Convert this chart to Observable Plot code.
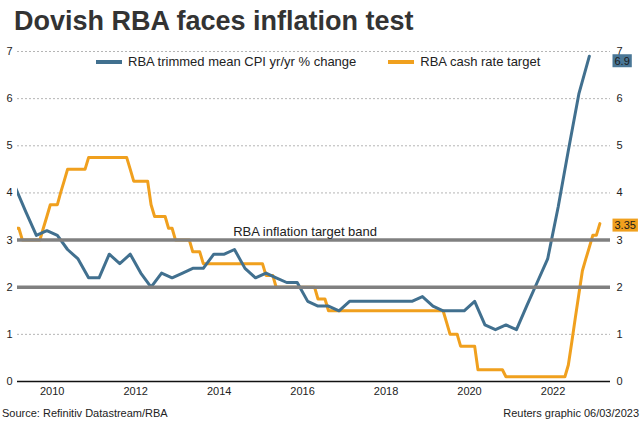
<!DOCTYPE html>
<html>
<head>
<meta charset="utf-8">
<script src="https://cdn.jsdelivr.net/npm/d3@7"></script>
<script src="https://cdn.jsdelivr.net/npm/@observablehq/plot@0.6"></script>
<style>
  body { margin: 0; background: #fff; font-family: Arial, "Liberation Sans", sans-serif; }
  #wrap { position: relative; width: 644px; height: 423px; overflow: hidden; background: #fff; }
  #title { position: absolute; left: 14px; top: 8px; font-size: 27px; line-height: 27px; font-weight: bold; color: #333; white-space: nowrap; }
  #chart { position: absolute; left: 0; top: 40px; }
  #legend { position: absolute; top: 55px; left: 96px; display: flex; align-items: center; font-size: 13px; line-height: 14px; color: #222; white-space: nowrap; }
  #legend .sw { display: inline-block; width: 26px; height: 4px; margin-right: 6px; }
  #legend .item { display: flex; align-items: center; }
  #src { position: absolute; left: 2px; top: 408px; font-size: 11px; line-height: 11px; color: #222; }
  #credit { position: absolute; right: 5px; top: 408px; font-size: 11px; line-height: 11px; color: #222; }
</style>
</head>
<body>
<div id="wrap">
  <div id="title">Dovish RBA faces inflation test</div>
  <div id="chart"></div>
  <div id="legend"></div>
  <div id="src">Source: Refinitiv Datastream/RBA</div>
  <div id="credit">Reuters graphic 06/03/2023</div>
</div>
<script>
// ---------- DATA ----------
const seriesNames = ["RBA trimmed mean CPI yr/yr % change", "RBA cash rate target"];
const seriesColors = ["#41708f", "#f0a01e"];

// Quarterly trimmed mean CPI, yr/yr %
const cpiQuarters = [
  "2009Q1","2009Q2","2009Q3","2009Q4",
  "2010Q1","2010Q2","2010Q3","2010Q4",
  "2011Q1","2011Q2","2011Q3","2011Q4",
  "2012Q1","2012Q2","2012Q3","2012Q4",
  "2013Q1","2013Q2","2013Q3","2013Q4",
  "2014Q1","2014Q2","2014Q3","2014Q4",
  "2015Q1","2015Q2","2015Q3","2015Q4",
  "2016Q1","2016Q2","2016Q3","2016Q4",
  "2017Q1","2017Q2","2017Q3","2017Q4",
  "2018Q1","2018Q2","2018Q3","2018Q4",
  "2019Q1","2019Q2","2019Q3","2019Q4",
  "2020Q1","2020Q2","2020Q3","2020Q4",
  "2021Q1","2021Q2","2021Q3","2021Q4",
  "2022Q1","2022Q2","2022Q3","2022Q4"
];
const cpiValues = [
  4.1, 3.6, 3.1, 3.2,
  3.1, 2.8, 2.6, 2.2,
  2.2, 2.7, 2.5, 2.7,
  2.3, 2.0, 2.3, 2.2,
  2.3, 2.4, 2.4, 2.7,
  2.7, 2.8, 2.4, 2.2,
  2.3, 2.2, 2.1, 2.1,
  1.7, 1.6, 1.6, 1.5,
  1.7, 1.7, 1.7, 1.7,
  1.7, 1.7, 1.7, 1.8,
  1.6, 1.5, 1.5, 1.5,
  1.7, 1.2, 1.1, 1.2,
  1.1, 1.6, 2.1, 2.6,
  3.7, 4.9, 6.1, 6.9
];

// Monthly RBA cash rate target, %, Feb 2009 .. Feb 2023
const cashFirstMonth = "2009-02";
const cashRate = [
  /*2009 Feb-Dec*/ 3.25, 3.25, 3.00, 3.00, 3.00, 3.00, 3.00, 3.00, 3.25, 3.50, 3.75,
  /*2010*/ 3.75, 3.75, 4.00, 4.25, 4.50, 4.50, 4.50, 4.50, 4.50, 4.50, 4.75, 4.75,
  /*2011*/ 4.75, 4.75, 4.75, 4.75, 4.75, 4.75, 4.75, 4.75, 4.75, 4.75, 4.50, 4.25,
  /*2012*/ 4.25, 4.25, 4.25, 4.25, 3.75, 3.50, 3.50, 3.50, 3.50, 3.25, 3.25, 3.00,
  /*2013*/ 3.00, 3.00, 3.00, 3.00, 2.75, 2.75, 2.75, 2.50, 2.50, 2.50, 2.50, 2.50,
  /*2014*/ 2.50, 2.50, 2.50, 2.50, 2.50, 2.50, 2.50, 2.50, 2.50, 2.50, 2.50, 2.50,
  /*2015*/ 2.50, 2.25, 2.25, 2.25, 2.00, 2.00, 2.00, 2.00, 2.00, 2.00, 2.00, 2.00,
  /*2016*/ 2.00, 2.00, 2.00, 2.00, 1.75, 1.75, 1.75, 1.50, 1.50, 1.50, 1.50, 1.50,
  /*2017*/ 1.50, 1.50, 1.50, 1.50, 1.50, 1.50, 1.50, 1.50, 1.50, 1.50, 1.50, 1.50,
  /*2018*/ 1.50, 1.50, 1.50, 1.50, 1.50, 1.50, 1.50, 1.50, 1.50, 1.50, 1.50, 1.50,
  /*2019*/ 1.50, 1.50, 1.50, 1.50, 1.50, 1.25, 1.00, 1.00, 1.00, 0.75, 0.75, 0.75,
  /*2020*/ 0.75, 0.75, 0.25, 0.25, 0.25, 0.25, 0.25, 0.25, 0.25, 0.25, 0.10, 0.10,
  /*2021*/ 0.10, 0.10, 0.10, 0.10, 0.10, 0.10, 0.10, 0.10, 0.10, 0.10, 0.10, 0.10,
  /*2022*/ 0.10, 0.10, 0.10, 0.10, 0.35, 0.85, 1.35, 1.85, 2.35, 2.60, 2.85, 3.10,
  /*2023*/ 3.10, 3.35
];

const yTicks = [0, 1, 2, 3, 4, 5, 6, 7];
const gridValues = [1, 2, 3, 4, 5, 6, 7];
const targetBand = [2, 3];
const bandLabel = "RBA inflation target band";
const bandLabelDate = "2014-05-04";
const xTickYears = [2010, 2012, 2014, 2016, 2018, 2020, 2022];
const xDomain = ["2009-03-03", "2023-05-19"];

// ---------- BUILD TABLES ----------
function quarterDate(q) { // middle month of quarter, mid-month
  const y = +q.slice(0, 4), n = +q.slice(5);
  return new Date(Date.UTC(y, (n - 1) * 3 + 1, 15));
}
const cpi = cpiQuarters.map((q, i) => ({date: quarterDate(q), value: cpiValues[i]}));
const [cy, cm] = cashFirstMonth.split("-").map(Number);
const cash = cashRate.map((v, i) => ({date: new Date(Date.UTC(cy, cm - 1 + i, 15)), value: v}));
const lastCpi = cpi[cpi.length - 1];
const lastCash = cash[cash.length - 1];

const fontFam = 'Arial, "Liberation Sans", sans-serif';

const plot = Plot.plot({
  width: 644,
  height: 362,
  marginTop: 11,
  marginBottom: 21,
  marginLeft: 17,
  marginRight: 34,
  style: {fontFamily: fontFam, fontSize: "11px", color: "#222", background: "transparent", overflow: "visible"},
  x: {type: "utc", domain: xDomain.map(d => new Date(d + "T00:00Z"))},
  y: {domain: [0, 7]},
  marks: [
    Plot.ruleY(gridValues, {stroke: "#b5b5b5", strokeDasharray: "2,2", strokeWidth: 1}),
    Plot.lineY(cash, {x: "date", y: "value", stroke: seriesColors[1], strokeWidth: 3, strokeLinejoin: "round", clip: true}),
    Plot.lineY(cpi, {x: "date", y: "value", stroke: seriesColors[0], strokeWidth: 3, strokeLinejoin: "round", clip: true}),
    Plot.ruleY(targetBand, {stroke: "#808080", strokeWidth: 3.5}),
    Plot.ruleY([0], {stroke: "#111", strokeWidth: 1.5}),
    Plot.text([bandLabel], {x: () => new Date(bandLabelDate + "T00:00Z"), y: () => targetBand[1], text: d => d,
      textAnchor: "start", lineAnchor: "bottom", dy: -4, fontSize: 13, fill: "#222"}),
    Plot.axisY(yTicks, {anchor: "left", tickSize: 0, tickPadding: 5, label: null, fontSize: 11}),
    Plot.axisY(yTicks, {anchor: "right", tickSize: 0, tickPadding: 6, label: null, fontSize: 11}),
    Plot.axisX(xTickYears.map(y => new Date(Date.UTC(y, 0, 1))), {tickSize: 0, tickPadding: 6, tickFormat: d3.utcFormat("%Y"), label: null, fontSize: 11}),
    Plot.text([lastCpi], {frameAnchor: "right", y: "value", text: d => String(d.value), dx: 4, dy: 5,
      textAnchor: "start", fontSize: 11, fill: "#1a1a1a", className: "endlab-cpi"}),
    Plot.text([lastCash], {frameAnchor: "right", y: "value", text: d => d.value.toFixed(2), dx: 4, dy: 2,
      textAnchor: "start", fontSize: 11, fill: "#1a1a1a", className: "endlab-cash"})
  ]
});
document.getElementById("chart").appendChild(plot);

// label boxes behind the end-value labels (same transform as the text)
[["endlab-cpi", "#4a7796"], ["endlab-cash", "#f0a01e"]].forEach(([cls, col]) => {
  plot.querySelectorAll("." + cls + " text").forEach(t => {
    const b = t.getBBox();
    const r = document.createElementNS("http://www.w3.org/2000/svg", "rect");
    r.setAttribute("x", b.x - 2);
    r.setAttribute("y", b.y - 0.5);
    r.setAttribute("width", b.width + 4);
    r.setAttribute("height", b.height + 1);
    r.setAttribute("fill", col);
    const tr = t.getAttribute("transform");
    if (tr) r.setAttribute("transform", tr);
    t.parentNode.insertBefore(r, t);
  });
});

// legend
const lg = d3.select("#legend");
seriesNames.forEach((n, i) => {
  const it = lg.append("div").attr("class", "item").style("margin-right", i === 0 ? "32px" : "0");
  it.append("span").attr("class", "sw").style("background", seriesColors[i]);
  it.append("span").text(n);
});
</script>
</body>
</html>
